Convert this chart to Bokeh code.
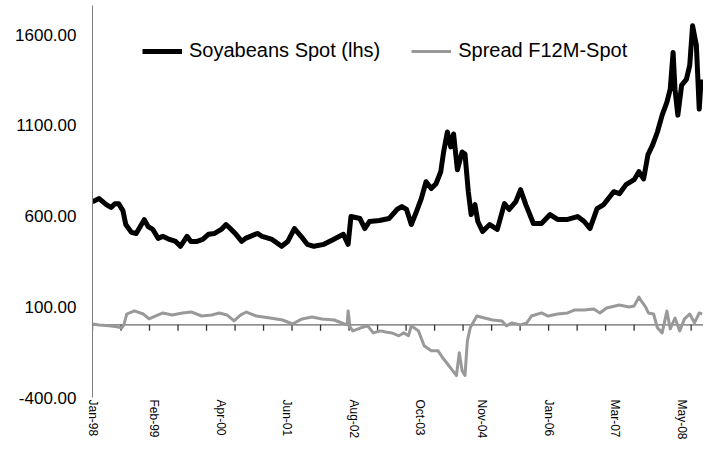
import math
from bokeh.plotting import figure
from bokeh.models import (ColumnDataSource, FixedTicker, NumeralTickFormatter, Span,
                          Legend, LegendItem, Range1d)
from bokeh.embed import file_html
from bokeh.resources import INLINE

# months since Jan-1998
soy_month = [0.0, 1.4, 2.9, 3.9, 4.7, 5.5, 6.4, 7.0, 8.2, 9.2, 10.3, 10.9, 11.7, 12.7, 13.8,
             14.8, 16.2, 17.5, 18.5, 19.9, 20.7, 22.0, 23.2, 24.4, 25.7, 27.1, 28.1, 29.2,
             30.2, 31.4, 32.2, 34.7, 35.7, 37.8, 39.8, 41.1, 42.5, 43.9, 45.2, 46.6, 48.7,
             50.7, 52.8, 53.8, 54.4, 56.3, 57.3, 58.3, 60.4, 62.4, 64.1, 65.1, 66.1, 67.1,
             68.2, 69.2, 70.2, 71.3, 72.3, 73.3, 73.9, 74.7, 75.4, 76.0, 76.8, 77.8, 78.4,
             79.1, 79.7, 80.5, 81.1, 82.1, 83.6, 85.2, 86.7, 87.7, 89.1, 90.1, 91.2, 92.8,
             94.5, 96.3, 97.9, 100.0, 102.1, 103.5, 104.7, 106.2, 107.6, 109.7, 110.9,
             112.3, 114.0, 115.0, 116.0, 116.9, 117.9, 118.9, 119.9, 120.9, 121.6, 122.2,
             122.6, 123.2, 124.0, 125.0, 125.7, 126.3, 127.1, 127.7, 128.1]
soy_spot = [679, 696, 663, 647, 668, 668, 630, 553, 510, 504, 553, 580, 542, 526, 477,
            488, 471, 460, 433, 488, 460, 460, 471, 499, 504, 526, 553, 526,
            499, 460, 477, 504, 488, 471, 433, 460, 531, 488, 444, 433, 444,
            471, 499, 444, 597, 586, 531, 570, 575, 586, 636, 652, 636, 553,
            625, 696, 789, 751, 778, 844, 953, 1063, 981, 1052, 855, 953, 942,
            734, 608, 663, 570, 515, 553, 526, 668, 636, 679, 745, 663, 559,
            559, 608, 581, 581, 597, 570, 531, 641, 663, 734, 723,
            773, 800, 844, 805, 937, 992, 1063, 1156, 1227, 1299, 1501,
            1299, 1156, 1321, 1353, 1430, 1649, 1540, 1189, 1353]

spread_month = [0.0, 1.4, 3.5, 5.1, 6.2, 6.6, 7.2, 8.8, 10.7, 11.9, 14.8, 16.8, 18.9, 20.9,
                23.0, 25.1, 26.7, 28.3, 29.8, 31.2, 32.4, 34.5, 37.4, 40.0, 42.1, 44.1,
                46.2, 48.3, 50.9, 53.0, 53.6, 53.8, 54.2, 54.8, 56.5, 57.9, 59.1, 60.6,
                62.0, 63.0, 64.5, 65.5, 66.5, 67.1, 68.6, 69.8, 71.3, 72.7, 73.7, 74.7,
                75.8, 76.6, 77.2, 77.8, 78.4, 78.9, 79.5, 80.9, 82.5, 84.2, 86.2, 87.1,
                88.3, 90.1, 91.4, 92.4, 94.5, 95.9, 97.9, 100.0, 101.4, 103.5, 105.5,
                106.8, 108.2, 110.9, 112.9, 114.0, 115.0, 115.8, 116.4, 117.0, 118.1,
                118.9, 119.9, 120.9, 121.6, 122.6, 123.6, 124.6, 125.7, 126.7, 127.7, 128.3]
spread_f12m = [5, 0, -5, -10, -16, 0, 60, 77, 60, 33, 66, 55, 66, 71,
               49, 55, 66, 55, 22, 55, 71, 49, 38, 27, 5, 33,
               44, 33, 27, 5, 0, 77, -10, -33, -16, -5, -44, -33,
               -40, -44, -60, -44, -60, -5, -33, -115, -142, -142, -181, -214,
               -252, -279, -153, -252, -279, -88, -16, 49, 38, 27, 22, -5,
               11, 0, 11, 49, 66, 49, 60, 66, 82, 82, 88,
               66, 93, 110, 99, 104, 153, 121, 99, 66, 60,
               -16, -44, 77, -22, 38, -33, 33, 60, 11, 66, 60]

label_months = [0, 13, 27, 41, 55, 69, 82, 96, 110, 124]
label_texts = ["Jan-98", "Feb-99", "Apr-00", "Jun-01", "Aug-02", "Oct-03", "Nov-04",
               "Jan-06", "Mar-07", "May-08"]
tick_months = list(range(0, 127, 6))
y_ticks = [-400, 100, 600, 1100, 1600]

FONT = "Liberation Sans"

p = figure(width=703, height=442, output_backend="svg", toolbar_location=None,
           x_range=Range1d(0, 128.6), y_range=Range1d(-400, 1760),
           min_border_left=92, min_border_right=0, min_border_top=5, min_border_bottom=42)
p.outline_line_color = None
p.xgrid.visible = False
p.ygrid.visible = False
p.background_fill_color = "white"
p.border_fill_color = "white"

# zero line acting as category axis, with its tick marks
zero = Span(location=0, dimension="width", line_color="#444444", line_width=1, level="underlay")
p.add_layout(zero)
tick_src = ColumnDataSource(dict(x=tick_months, y=[-16] * len(tick_months)))
p.scatter("x", "y", source=tick_src, marker="dash", angle=math.pi / 2, size=6,
          line_color="#333333", line_width=1.3)

spread_src = ColumnDataSource(dict(x=spread_month, y=spread_f12m))
soy_src = ColumnDataSource(dict(x=soy_month, y=soy_spot))
r_spr = p.line("x", "y", source=spread_src, line_color="#999999", line_width=3, line_join="round")
r_soy = p.line("x", "y", source=soy_src, line_color="black", line_width=5, line_join="round")

legend = Legend(items=[LegendItem(label="Soyabeans Spot (lhs)", renderers=[r_soy]),
                       LegendItem(label="Spread F12M-Spot", renderers=[r_spr])],
                orientation="horizontal", location=(50, 335),
                border_line_color=None, background_fill_alpha=0,
                padding=0, margin=0, spacing=31, glyph_width=40, label_standoff=7,
                label_text_font=FONT, label_text_font_size="20px", label_text_color="black")
p.add_layout(legend)

# y axis
p.yaxis.ticker = FixedTicker(ticks=y_ticks)
p.yaxis.formatter = NumeralTickFormatter(format="0.00")
p.yaxis.axis_line_color = "#808080"
p.yaxis.major_tick_line_color = None
p.yaxis.minor_tick_line_color = None
p.yaxis.major_tick_out = 0
p.yaxis.major_label_standoff = 16
p.yaxis.major_label_text_font = FONT
p.yaxis.major_label_text_font_size = "17px"
p.yaxis.major_label_text_color = "black"

# x axis labels only
p.xaxis.ticker = FixedTicker(ticks=label_months)
p.xaxis.major_label_overrides = {m: t for m, t in zip(label_months, label_texts)}
p.xaxis.axis_line_color = None
p.xaxis.major_tick_line_color = None
p.xaxis.minor_tick_line_color = None
p.xaxis.major_tick_out = 0
p.xaxis.major_tick_in = 0
p.xaxis.major_label_standoff = 2
p.xaxis.major_label_orientation = "vertical"
p.xaxis.major_label_text_font = FONT
p.xaxis.major_label_text_font_size = "12px"
p.xaxis.major_label_text_color = "black"

open("out.html", "w").write(file_html(p, INLINE))
